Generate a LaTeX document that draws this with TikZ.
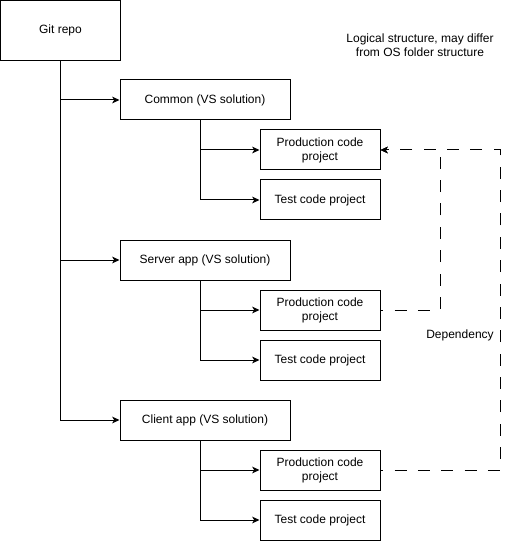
\documentclass[tikz,border=0pt]{standalone}
\usepackage{fontspec}
\setmainfont{Liberation Sans}
\usetikzlibrary{arrows.meta}
\begin{document}
\begin{tikzpicture}[x=0.75pt,y=-0.75pt,
  every node/.style={font=\fontsize{9}{10.5}\selectfont},
  box/.style={draw,line width=0.75pt,inner sep=0pt,align=center,minimum height=30pt},
  arr/.style={line width=0.75pt,-{Stealth[length=5.5pt,width=5pt,inset=1.5pt]}},
  dep/.style={arr,dash pattern=on 9pt off 8.5pt,dash phase=7pt}]
\useasboundingbox (0,0) rectangle (509,541);
\node[box,minimum width=89.5pt,minimum height=45pt] (git) at (60.5,30.5) {Git repo};
\node[box,minimum width=127.5pt] (common) at (205,100) {Common (VS solution)};
\node[box,minimum width=90pt] (p1) at (320,150) {Production code\\project};
\node[box,minimum width=90pt] (t1) at (320,200) {Test code project};
\node[box,minimum width=127.5pt] (server) at (205,260) {Server app (VS solution)};
\node[box,minimum width=90pt] (p2) at (320,310) {Production code\\project};
\node[box,minimum width=90pt] (t2) at (320,360) {Test code project};
\node[box,minimum width=127.5pt] (client) at (205,420) {Client app (VS solution)};
\node[box,minimum width=90pt] (p3) at (320,470) {Production code\\project};
\node[box,minimum width=90pt] (t3) at (320,520) {Test code project};
\node[align=center] (note) at (420,45) {Logical structure, may differ\\from OS folder structure};
\node (deplabel) at (460,335) {Dependency};
\coordinate (c1) at (200,120);
\coordinate (c2) at (200,280);
\coordinate (c3) at (200,440);
\coordinate (k2) at (440,310);
\coordinate (k3) at (500,470);
\draw[arr] (git.south) |- (common.west);
\draw[arr] (git.south) |- (server.west);
\draw[arr] (git.south) |- (client.west);
\draw[arr] (c1) |- (p1.west);
\draw[arr] (c1) |- (t1.west);
\draw[arr] (c2) |- (p2.west);
\draw[arr] (c2) |- (t2.west);
\draw[arr] (c3) |- (p3.west);
\draw[arr] (c3) |- (t3.west);
\draw[dep] (p2.east) -- (k2) |- (p1.east);
\draw[dep] (p3.east) -- (k3) |- (p1.east);
\end{tikzpicture}
\end{document}
